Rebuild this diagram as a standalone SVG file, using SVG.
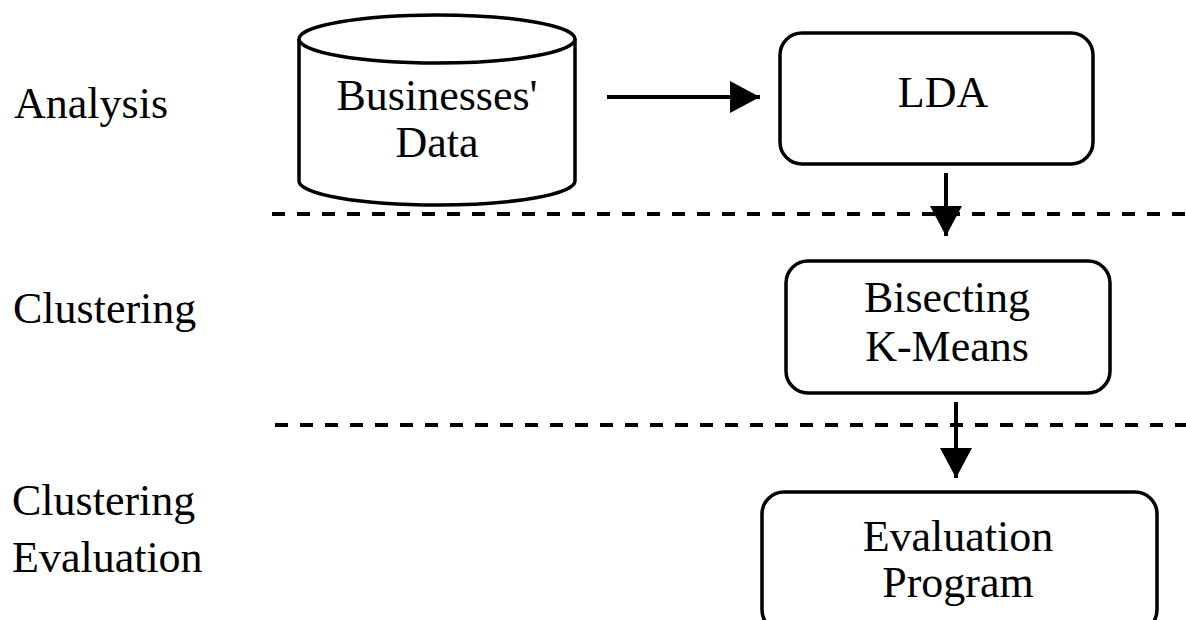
<svg xmlns="http://www.w3.org/2000/svg" width="1186" height="620" viewBox="0 0 1186 620">
<style>
.t{font-family:"Liberation Serif","Times New Roman",serif;font-size:44px;fill:#000}
.c{text-anchor:middle}
.box{fill:#fff;stroke:#000;stroke-width:3.5}
.dash{stroke:#000;stroke-width:4;stroke-dasharray:13 12;fill:none}
.conn{stroke:#000;stroke-width:4;fill:none}
</style>
<defs>
<marker id="ah" markerUnits="userSpaceOnUse" markerWidth="30" markerHeight="32" refX="30" refY="16" orient="auto">
<path d="M0,0 L30,16 L0,32 Z" fill="#000"/>
</marker>
</defs>
<rect width="1186" height="620" fill="#fff"/>
<g id="labels">
<text class="t" x="14" y="118">Analysis</text>
<text class="t" x="13" y="323">Clustering</text>
<text class="t" x="12" y="515">Clustering</text>
<text class="t" x="12" y="572">Evaluation</text>
</g>
<g id="separators">
<line class="dash" x1="272" y1="214" x2="1186" y2="214"/>
<line class="dash" x1="275" y1="425" x2="1186" y2="425"/>
</g>
<g id="businesses-data">
<path class="box" d="M299,39 L299,181 A138,24 0 0 0 575,181 L575,39"/>
<ellipse class="box" cx="437" cy="39" rx="138" ry="24"/>
<text class="t c" x="437" y="110">Businesses'</text>
<text class="t c" x="437" y="157">Data</text>
</g>
<g id="lda">
<rect class="box" x="780" y="33" width="313" height="131" rx="22"/>
<text class="t c" x="943" y="107">LDA</text>
</g>
<g id="bisecting">
<rect class="box" x="786" y="261" width="324" height="132" rx="22"/>
<text class="t c" x="947" y="312">Bisecting</text>
<text class="t c" x="947" y="361">K-Means</text>
</g>
<g id="evaluation">
<rect class="box" x="762" y="492" width="395" height="140" rx="22"/>
<text class="t c" x="958" y="551">Evaluation</text>
<text class="t c" x="958" y="597">Program</text>
</g>
<g id="connectors">
<line class="conn" x1="607" y1="97" x2="760" y2="97" marker-end="url(#ah)"/>
<line class="conn" x1="946" y1="173" x2="946" y2="236" marker-end="url(#ah)"/>
<line class="conn" x1="956" y1="402" x2="956" y2="478" marker-end="url(#ah)"/>
</g>
</svg>
